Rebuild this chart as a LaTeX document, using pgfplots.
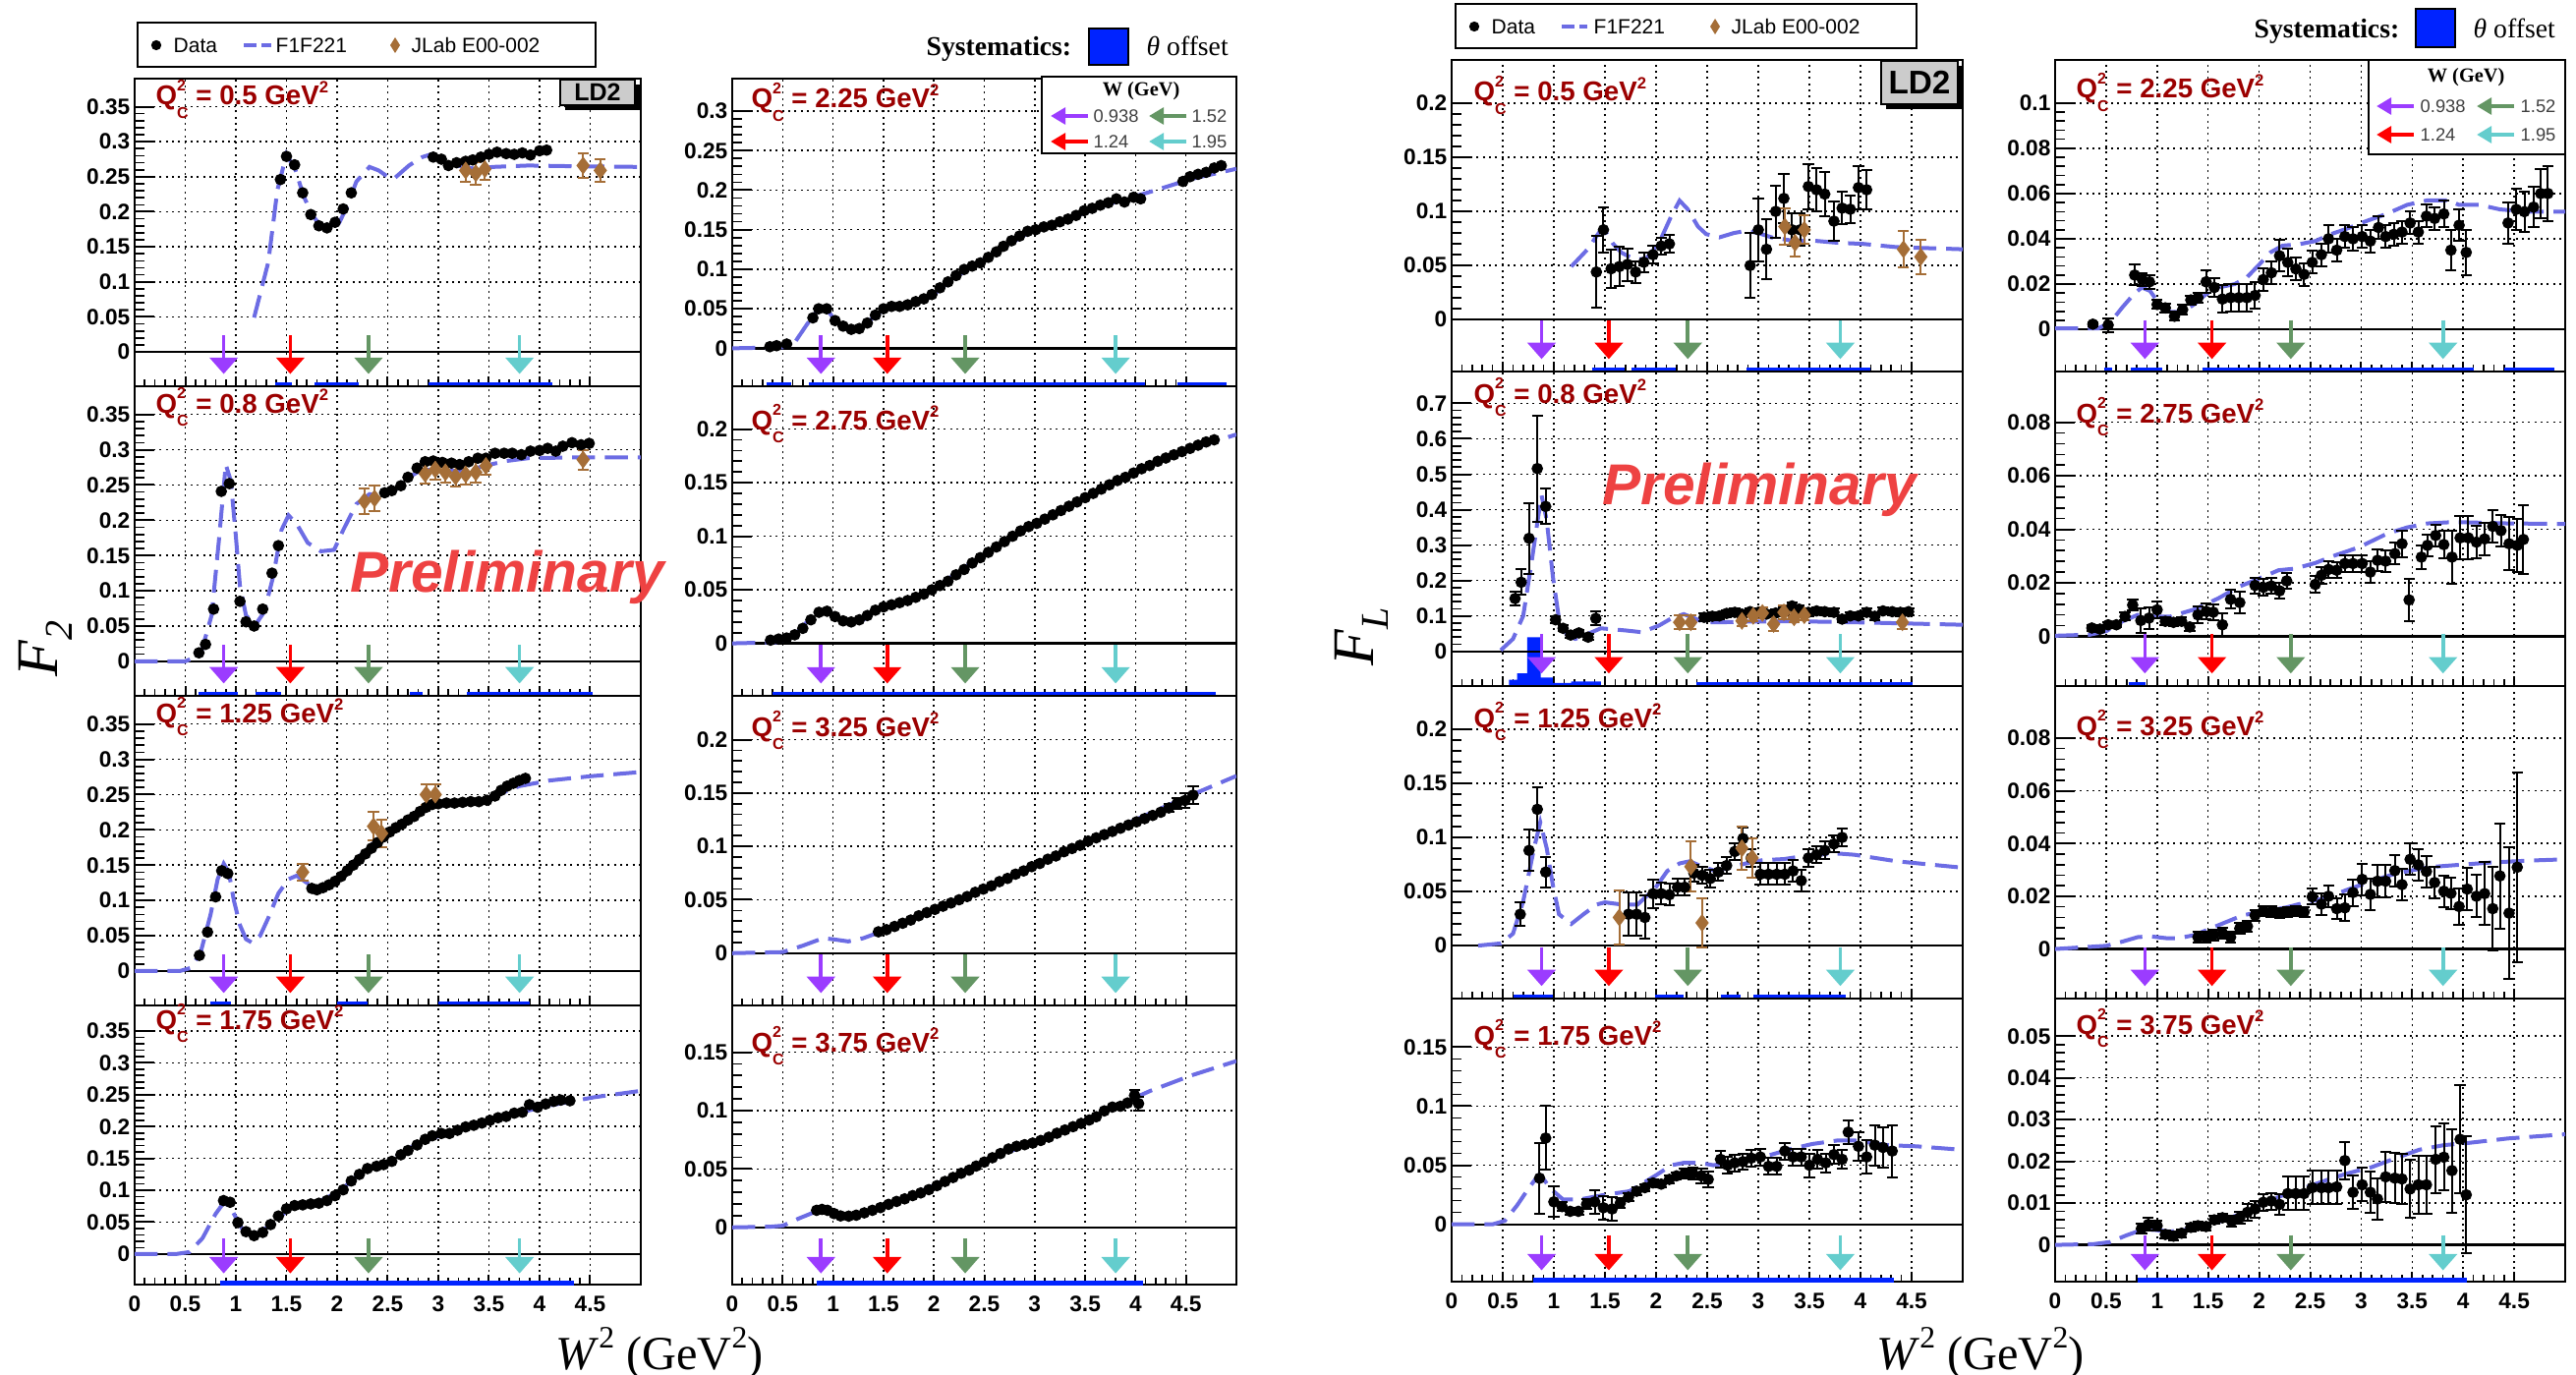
\documentclass[border=0pt]{standalone}
\usepackage{fontspec}
\setmainfont{Liberation Serif}
\newfontfamily\arial{Liberation Sans}
\usepackage{pgfplots}
\pgfplotsset{compat=1.18}
\usetikzlibrary{arrows.meta}

\definecolor{modelc}{RGB}{108,108,228}
\definecolor{jlab}{RGB}{165,110,55}
\definecolor{qred}{RGB}{155,0,0}
\definecolor{prelim}{RGB}{238,66,66}
\definecolor{apurple}{RGB}{155,60,255}
\definecolor{ared}{RGB}{255,0,0}
\definecolor{agreen}{RGB}{100,150,100}
\definecolor{acyan}{RGB}{100,205,205}
\definecolor{sysblue}{RGB}{0,35,255}
\definecolor{ldgray}{RGB}{204,204,204}

\newcommand\tickf{\arial\bfseries\fontsize{6.8}{7}\selectfont}
\newcommand\setrange[2]{\def\ymn{#1}\def\ymx{#2}%
 \pgfmathsetmacro\ya{#1+0.165*((#2)-(#1))}%
 \pgfmathsetmacro\yb{#1+0.04*((#2)-(#1))}}
\newcommand\arrowsplot{%
 \addplot[apurple, line width=1.1pt, -{Triangle[width=8.5pt,length=5pt]}, forget plot] coordinates {(0.8798,\ya) (0.8798,\yb)};
 \addplot[ared, line width=1.1pt, -{Triangle[width=8.5pt,length=5pt]}, forget plot] coordinates {(1.5376,\ya) (1.5376,\yb)};
 \addplot[agreen, line width=1.1pt, -{Triangle[width=8.5pt,length=5pt]}, forget plot] coordinates {(2.3104,\ya) (2.3104,\yb)};
 \addplot[acyan, line width=1.1pt, -{Triangle[width=8.5pt,length=5pt]}, forget plot] coordinates {(3.8025,\ya) (3.8025,\yb)};
}
\newcommand\zeroline{\addplot[black, line width=0.7pt, forget plot] coordinates {(0,0) (5,0)};}
\newcommand\sys[2]{\addplot[sysblue, line width=2.6pt, forget plot] coordinates {(#1,\ymn) (#2,\ymn)};}

\pgfplotsset{
 panel/.style={
  scale only axis, anchor=north west,
  xmin=0, xmax=5, ymin=\ymn, ymax=\ymx,
  xtick={0,0.5,1,1.5,2,2.5,3,3.5,4,4.5},
  xticklabels={},
  scaled y ticks=false, scaled x ticks=false,
  minor x tick num=4, minor y tick num=4,
  tick align=inside, tick pos=left,
  grid=major,
  major grid style={line width=0.45pt, black, dash pattern=on 0.6pt off 1.3pt},
  axis line style={line width=0.8pt, black},
  major tick style={line width=0.6pt, black},
  minor tick style={line width=0.5pt, black},
  major tick length=6pt, minor tick length=3pt,
  xtick style={/pgfplots/major tick length=3pt, /pgfplots/minor tick length=2pt},
  ticklabel style={font=\tickf},
  /pgf/number format/assume math mode=true,
  y tick label style={/pgf/number format/fixed, /pgf/number format/precision=3, inner xsep=1.2pt},
 },
 bottom/.style={xticklabels={0,0.5,1,1.5,2,2.5,3,3.5,4,4.5}},
 dat/.style={only marks, mark=*, mark size=1.55pt, black, mark options={fill=black, draw=black}},
 jl/.style={only marks, mark=diamond*, mark size=2.4pt, color=jlab, mark options={fill=jlab, draw=jlab}},
 mod/.style={no marks, draw=modelc, line width=1.2pt, dash pattern=on 7pt off 3pt},
 err/.style={/pgfplots/error bars/y dir=both, /pgfplots/error bars/y explicit,
   /pgfplots/error bars/error bar style={line width=0.6pt},
   /pgfplots/error bars/error mark options={rotate=90, mark size=1.7pt, line width=0.6pt}},
}

\newcommand\qlab[1]{{\color{qred}\arial\bfseries\fontsize{8.3}{9}\selectfont Q\rlap{\raisebox{0.52em}{\fontsize{4.8}{5}\selectfont 2}}\raisebox{-0.5em}{\fontsize{4.8}{5}\selectfont C} = #1 GeV\raisebox{0.45em}{\fontsize{5}{5}\selectfont 2}}}

\begin{document}
\begin{tikzpicture}
\path[use as bounding box] (0,0) rectangle (786.3pt,-419.7pt);

%%%%%%%%%%%%%%%% F2 left column
\setrange{-0.049}{0.39}
\begin{axis}[panel, at={(41.1pt,-24pt)}, width=154.5pt, height=93.9pt,
 ytick={0,0.05,0.1,0.15,0.2,0.25,0.3,0.35}]
\zeroline
\addplot[mod] coordinates {(1.18,0.049) (1.32,0.128) (1.41,0.231) (1.50,0.282) (1.59,0.259) (1.67,0.222) (1.76,0.194) (1.84,0.18) (1.93,0.177) (2.02,0.184) (2.10,0.208) (2.19,0.243) (2.32,0.264) (2.41,0.259) (2.50,0.25) (2.56,0.247) (2.71,0.266) (2.84,0.278) (2.93,0.282) (3.02,0.273) (3.19,0.266) (3.37,0.261) (3.54,0.264) (3.89,0.266) (4.32,0.265) (5.0,0.264)};
\addplot[dat] coordinates {(1.44,0.246) (1.50,0.279) (1.58,0.267) (1.66,0.227) (1.74,0.196) (1.82,0.180) (1.90,0.177) (1.98,0.185) (2.06,0.204) (2.14,0.227)
 (2.95,0.278) (3.03,0.275) (3.10,0.266) (3.18,0.270) (3.27,0.272) (3.34,0.274) (3.42,0.278) (3.50,0.282) (3.58,0.285) (3.67,0.283) (3.75,0.282) (3.83,0.284) (3.91,0.281) (4.00,0.287) (4.07,0.288)};
\addplot[jl, err] coordinates {(3.27,0.259) +- (0,0.016) (3.37,0.255) +- (0,0.016) (3.46,0.261) +- (0,0.016) (4.43,0.266) +- (0,0.018) (4.60,0.259) +- (0,0.016)};
\arrowsplot
\sys{1.39}{1.55}\sys{1.78}{2.21}\sys{2.90}{4.13}
\end{axis}

\setrange{-0.049}{0.39}
\begin{axis}[panel, at={(41.1pt,-117.9pt)}, width=154.5pt, height=94.5pt,
 ytick={0,0.05,0.1,0.15,0.2,0.25,0.3,0.35}]
\zeroline
\addplot[mod] coordinates {(0,0) (0.50,0) (0.65,0.009) (0.76,0.065) (0.83,0.168) (0.90,0.279) (0.95,0.256) (1.0,0.177) (1.04,0.107) (1.10,0.065) (1.19,0.051) (1.28,0.070) (1.37,0.121) (1.45,0.186) (1.52,0.207) (1.60,0.195) (1.71,0.168) (1.84,0.156) (1.97,0.158) (2.06,0.186) (2.19,0.223) (2.32,0.237) (2.45,0.235) (2.58,0.244) (2.71,0.261) (2.84,0.272) (2.97,0.271) (3.10,0.27) (3.28,0.27) (3.45,0.277) (3.67,0.284) (3.89,0.288) (4.32,0.289) (5.0,0.289)};
\addplot[dat] coordinates {(0.635,0.012) (0.70,0.024) (0.78,0.074) (0.856,0.241) (0.935,0.252) (1.04,0.085) (1.10,0.056) (1.18,0.050) (1.265,0.074) (1.357,0.125) (1.42,0.164)
 (2.47,0.239) (2.54,0.242) (2.63,0.249) (2.70,0.261) (2.79,0.274) (2.87,0.283) (2.95,0.284) (3.04,0.282) (3.13,0.281) (3.21,0.279) (3.30,0.283) (3.39,0.288) (3.47,0.288) (3.56,0.295) (3.65,0.295) (3.73,0.295) (3.82,0.293) (3.91,0.298) (4.00,0.299) (4.08,0.302) (4.16,0.298) (4.23,0.305) (4.32,0.310) (4.41,0.307) (4.49,0.309)};
\addplot[jl, err] coordinates {(2.27,0.227) +- (0,0.018) (2.37,0.231) +- (0,0.018) (2.87,0.266) +- (0,0.014) (2.97,0.272) +- (0,0.014) (3.07,0.268) +- (0,0.014) (3.17,0.262) +- (0,0.014) (3.27,0.265) +- (0,0.014) (3.37,0.268) +- (0,0.014) (3.47,0.277) +- (0,0.012) (4.43,0.286) +- (0,0.014)};
\arrowsplot
\sys{0.63}{1.02}\sys{1.19}{1.45}\sys{2.72}{2.84}\sys{3.28}{4.52}
\end{axis}

\setrange{-0.049}{0.39}
\begin{axis}[panel, at={(41.1pt,-212.4pt)}, width=154.5pt, height=94.5pt,
 ytick={0,0.05,0.1,0.15,0.2,0.25,0.3,0.35}]
\zeroline
\addplot[mod] coordinates {(0,0) (0.45,0) (0.55,0.004) (0.65,0.025) (0.75,0.08) (0.82,0.13) (0.88,0.152) (0.93,0.14) (0.98,0.10) (1.04,0.065) (1.10,0.045) (1.16,0.04) (1.24,0.05) (1.32,0.075) (1.42,0.11) (1.52,0.13) (1.60,0.135) (1.70,0.125) (1.80,0.118) (1.92,0.122) (2.05,0.135) (2.2,0.16) (2.35,0.18) (2.5,0.195) (2.7,0.215) (2.9,0.232) (3.1,0.236) (3.3,0.238) (3.5,0.245) (3.8,0.262) (4.1,0.27) (4.5,0.276) (5,0.282)};
\addplot[dat] coordinates {(0.64,0.022) (0.72,0.055) (0.80,0.105) (0.86,0.142) (0.92,0.138)
 (1.75,0.117) (1.80,0.115) (1.86,0.118) (1.92,0.122) (1.98,0.127) (2.04,0.134) (2.10,0.142) (2.16,0.150) (2.22,0.158) (2.28,0.166) (2.34,0.174) (2.40,0.182) (2.46,0.190) (2.52,0.197) (2.58,0.203) (2.64,0.208) (2.70,0.214) (2.76,0.219) (2.82,0.226) (2.88,0.232) (2.94,0.236) (3.00,0.237) (3.08,0.238) (3.16,0.238) (3.24,0.239) (3.32,0.240) (3.40,0.240) (3.48,0.242) (3.56,0.248) (3.62,0.256) (3.68,0.262) (3.74,0.266) (3.80,0.270) (3.86,0.273)};
\addplot[jl, err] coordinates {(1.66,0.14) +- (0,0.012) (2.36,0.205) +- (0,0.02) (2.44,0.195) +- (0,0.02) (2.88,0.25) +- (0,0.015) (2.97,0.25) +- (0,0.015)};
\arrowsplot
\sys{0.75}{0.95}\sys{2.0}{2.3}\sys{3.0}{3.9}
\end{axis}

\setrange{-0.048}{0.39}
\begin{axis}[panel, bottom, at={(41.1pt,-306.9pt)}, width=154.5pt, height=85.2pt,
 ytick={0,0.05,0.1,0.15,0.2,0.25,0.3,0.35}]
\zeroline
\addplot[mod] coordinates {(0,0) (0.41,0) (0.54,0.003) (0.67,0.0247) (0.80,0.063) (0.887,0.082) (0.97,0.066) (1.06,0.040) (1.19,0.030) (1.37,0.048) (1.54,0.0735) (1.80,0.081) (2.02,0.098) (2.23,0.127) (2.50,0.145) (2.80,0.174) (3.23,0.197) (3.67,0.217) (4.10,0.233) (4.54,0.246) (5.0,0.256)};
\addplot[dat] coordinates {(0.878,0.0838) (0.943,0.0812) (1.02,0.0493) (1.10,0.035) (1.18,0.0288) (1.265,0.0339) (1.343,0.0462) (1.42,0.0596) (1.50,0.0709) (1.58,0.076) (1.66,0.0771) (1.74,0.0786) (1.82,0.0797) (1.90,0.0838) (1.98,0.0915) (2.06,0.1007) (2.14,0.1146) (2.22,0.1249) (2.30,0.1341) (2.39,0.1377) (2.46,0.1403) (2.54,0.1454) (2.63,0.1557) (2.70,0.1624) (2.79,0.1711) (2.87,0.1799) (2.94,0.1855) (3.03,0.1891) (3.11,0.1891) (3.19,0.1942) (3.27,0.1994) (3.35,0.202) (3.43,0.2055) (3.51,0.2097) (3.59,0.2138) (3.67,0.2158) (3.75,0.221) (3.83,0.2225) (3.90,0.2343) (3.98,0.2302) (4.06,0.2354) (4.14,0.2395) (4.21,0.2415) (4.30,0.2405)};
\arrowsplot
\sys{0.84}{4.34}
\end{axis}

%%%%%%%%%%%%%%%% F2 right column
\setrange{-0.048}{0.341}
\begin{axis}[panel, at={(223.5pt,-24pt)}, width=153.9pt, height=93.9pt,
 ytick={0,0.05,0.1,0.15,0.2,0.25,0.3}]
\zeroline
\addplot[mod] coordinates {(0,0) (0.5,0.0012) (0.62,0.0074) (0.74,0.030) (0.84,0.047) (0.94,0.049) (1.04,0.032) (1.15,0.023) (1.29,0.026) (1.43,0.043) (1.53,0.050) (1.77,0.057) (1.97,0.065) (2.17,0.086) (2.37,0.103) (2.56,0.117) (2.96,0.148) (3.36,0.165) (3.75,0.183) (4.15,0.198) (4.55,0.214) (5.0,0.227)};
\addplot[dat] coordinates {(0.373,0.002) (0.44,0.0033) (0.54,0.0054) (0.80,0.0385) (0.857,0.050) (0.937,0.050) (1.02,0.035) (1.10,0.028) (1.18,0.024) (1.26,0.025) (1.34,0.032) (1.42,0.042) (1.50,0.050) (1.58,0.053) (1.66,0.053) (1.74,0.055) (1.82,0.059) (1.90,0.0625) (1.98,0.068) (2.06,0.0765) (2.14,0.084) (2.22,0.092) (2.30,0.0997) (2.38,0.104) (2.46,0.108) (2.54,0.115) (2.62,0.122) (2.69,0.129) (2.77,0.136) (2.85,0.142) (2.93,0.148) (3.01,0.150) (3.09,0.1535) (3.17,0.1556) (3.25,0.160) (3.33,0.1634) (3.41,0.168) (3.49,0.174) (3.57,0.177) (3.65,0.181) (3.73,0.184) (3.81,0.189) (3.89,0.185) (3.98,0.191) (4.05,0.189)
 (4.47,0.211) (4.54,0.217) (4.62,0.220) (4.70,0.2225) (4.78,0.228) (4.85,0.231)};
\arrowsplot
\sys{0.34}{0.58}\sys{0.76}{4.09}\sys{4.42}{4.90}
\end{axis}

\setrange{-0.049}{0.24}
\begin{axis}[panel, at={(223.5pt,-117.9pt)}, width=153.9pt, height=94.5pt,
 ytick={0,0.05,0.1,0.15,0.2}]
\zeroline
\addplot[mod] coordinates {(0,0) (0.45,0.001) (0.6,0.006) (0.72,0.018) (0.84,0.029) (0.94,0.031) (1.04,0.024) (1.15,0.019) (1.3,0.022) (1.45,0.032) (1.6,0.037) (1.8,0.042) (2.0,0.051) (2.2,0.064) (2.4,0.077) (2.6,0.089) (2.8,0.101) (3.0,0.112) (3.4,0.13) (3.8,0.151) (4.2,0.168) (4.6,0.183) (5.0,0.195)};
\addplot[dat] coordinates {(0.38,0.003) (0.46,0.004) (0.54,0.005) (0.62,0.008) (0.70,0.014) (0.78,0.022) (0.86,0.029) (0.94,0.030) (1.02,0.025) (1.10,0.021) (1.18,0.020) (1.26,0.022) (1.34,0.026) (1.42,0.031) (1.50,0.034) (1.58,0.036) (1.66,0.038) (1.74,0.040) (1.82,0.043) (1.90,0.046) (1.98,0.050) (2.06,0.054) (2.14,0.058) (2.22,0.064) (2.30,0.069) (2.38,0.075) (2.46,0.080) (2.54,0.085) (2.62,0.090) (2.70,0.095) (2.78,0.100) (2.86,0.105) (2.94,0.109) (3.02,0.112) (3.10,0.116) (3.18,0.120) (3.26,0.124) (3.34,0.128) (3.42,0.132) (3.50,0.136) (3.58,0.140) (3.66,0.144) (3.74,0.148) (3.82,0.152) (3.90,0.155) (3.98,0.159) (4.06,0.163) (4.14,0.166) (4.22,0.170) (4.30,0.173) (4.38,0.176) (4.46,0.179) (4.54,0.182) (4.62,0.185) (4.70,0.188) (4.78,0.190)};
\arrowsplot
\sys{0.4}{4.8}
\end{axis}

\setrange{-0.049}{0.241}
\begin{axis}[panel, at={(223.5pt,-212.4pt)}, width=153.9pt, height=94.5pt,
 ytick={0,0.05,0.1,0.15,0.2}]
\zeroline
\addplot[mod] coordinates {(0,0) (0.5,0.001) (0.7,0.007) (0.9,0.014) (1.0,0.013) (1.15,0.011) (1.3,0.014) (1.5,0.021) (2.0,0.040) (2.5,0.060) (3.0,0.083) (3.5,0.104) (4.0,0.125) (4.5,0.146) (5.0,0.166)};
\addplot[dat] coordinates {(1.45,0.020) (1.53,0.022) (1.61,0.025) (1.69,0.028) (1.77,0.031) (1.85,0.035) (1.93,0.038) (2.01,0.041) (2.09,0.044) (2.17,0.047) (2.25,0.050) (2.33,0.053) (2.41,0.057) (2.49,0.060) (2.57,0.063) (2.65,0.067) (2.73,0.070) (2.81,0.074) (2.89,0.077) (2.97,0.081) (3.05,0.084) (3.13,0.088) (3.21,0.091) (3.29,0.095) (3.37,0.098) (3.45,0.101) (3.53,0.105) (3.61,0.108) (3.69,0.111) (3.77,0.114) (3.85,0.117) (3.93,0.120) (4.01,0.123) (4.09,0.126) (4.17,0.129) (4.25,0.132)};
\addplot[dat, err] coordinates {(4.33,0.136) +- (0,0.004) (4.41,0.140) +- (0,0.005) (4.49,0.143) +- (0,0.007) (4.57,0.148) +- (0,0.008)};
\arrowsplot
\end{axis}

\setrange{-0.049}{0.19}
\begin{axis}[panel, bottom, at={(223.5pt,-306.9pt)}, width=153.9pt, height=85.2pt,
 ytick={0,0.05,0.1,0.15}]
\zeroline
\addplot[mod] coordinates {(0,0) (0.38,0.0006) (0.5,0.0014) (0.66,0.0076) (0.82,0.0132) (0.98,0.0132) (1.13,0.0098) (1.37,0.0132) (1.77,0.0267) (2.17,0.0427) (2.56,0.0581) (2.96,0.0722) (3.36,0.0862) (3.75,0.1017) (4.15,0.117) (4.55,0.13) (5.0,0.1424)};
\addplot[dat] coordinates {(0.837,0.0146) (0.89,0.0154) (0.944,0.0146) (1.01,0.0118) (1.075,0.0098) (1.155,0.0096) (1.23,0.0104) (1.31,0.0124) (1.39,0.0146) (1.47,0.0169) (1.55,0.0197) (1.63,0.0222) (1.71,0.0244) (1.79,0.0272) (1.87,0.0295) (1.95,0.0323) (2.03,0.0357) (2.11,0.0393) (2.19,0.0427) (2.27,0.0463) (2.35,0.049) (2.42,0.0525) (2.50,0.0559) (2.58,0.0596) (2.66,0.0632) (2.74,0.0671) (2.82,0.0694) (2.90,0.0708) (2.98,0.0722) (3.06,0.0744) (3.14,0.0772) (3.22,0.0806) (3.30,0.0834) (3.38,0.0862) (3.46,0.089) (3.54,0.0919) (3.61,0.0947) (3.69,0.0997) (3.77,0.103) (3.85,0.1037) (3.92,0.1065)};
\addplot[dat, err] coordinates {(3.99,0.113) +- (0,0.005) (4.03,0.106) +- (0,0.006)};
\arrowsplot
\sys{0.84}{4.07}
\end{axis}

%%%%%%%%%%%%%%%% FL left column
\setrange{-0.048}{0.24}
\begin{axis}[panel, at={(443.1pt,-18.3pt)}, width=156pt, height=95.1pt,
 ytick={0,0.05,0.1,0.15,0.2}]
\zeroline
\addplot[mod] coordinates {(1.17,0.049) (1.33,0.065) (1.46,0.083) (1.50,0.082) (1.58,0.07) (1.66,0.062) (1.78,0.056) (1.90,0.056) (2.03,0.071) (2.15,0.096) (2.23,0.11) (2.31,0.102) (2.41,0.086) (2.49,0.079) (2.62,0.076) (2.76,0.08) (2.88,0.082) (3.00,0.08) (3.13,0.076) (3.33,0.073) (3.53,0.073) (3.78,0.071) (4.02,0.07) (4.35,0.067) (5.0,0.065)};
\addplot[dat, err] coordinates {(1.416,0.044) +- (0,0.033) (1.485,0.083) +- (0,0.021) (1.56,0.047) +- (0,0.018) (1.64,0.049) +- (0,0.018) (1.72,0.051) +- (0,0.015) (1.80,0.044) +- (0,0.01) (1.88,0.053) +- (0,0.009) (1.97,0.060) +- (0,0.008) (2.05,0.068) +- (0,0.008) (2.13,0.070) +- (0,0.008)
 (2.92,0.050) +- (0,0.03) (3.00,0.083) +- (0,0.029) (3.08,0.065) +- (0,0.028) (3.17,0.100) +- (0,0.024) (3.25,0.112) +- (0,0.023) (3.33,0.083) +- (0,0.015) (3.41,0.083) +- (0,0.015) (3.49,0.123) +- (0,0.021) (3.57,0.120) +- (0,0.02) (3.65,0.116) +- (0,0.02) (3.74,0.091) +- (0,0.018) (3.82,0.103) +- (0,0.015) (3.90,0.102) +- (0,0.013) (3.98,0.122) +- (0,0.02) (4.06,0.120) +- (0,0.018)};
\addplot[jl, err] coordinates {(3.26,0.086) +- (0,0.017) (3.36,0.071) +- (0,0.013) (3.45,0.083) +- (0,0.013) (4.42,0.065) +- (0,0.017) (4.59,0.058) +- (0,0.016)};
\arrowsplot
\sys{1.37}{1.69}\sys{1.76}{2.19}\sys{2.88}{4.10}
\end{axis}

\setrange{-0.098}{0.79}
\begin{axis}[panel, at={(443.1pt,-113.4pt)}, width=156pt, height=96pt,
 ytick={0,0.1,0.2,0.3,0.4,0.5,0.6,0.7}]
\addplot[fill=sysblue, draw=none, forget plot] coordinates {(0.56,-0.1) (0.56,-0.080) (0.64,-0.080) (0.64,-0.062) (0.74,-0.062) (0.74,0.040) (0.87,0.040) (0.87,-0.074) (0.99,-0.074) (0.99,-0.089) (1.17,-0.089) (1.17,-0.085) (1.46,-0.085) (1.46,-0.1)};
\zeroline
\addplot[mod] coordinates {(0.48,0.003) (0.60,0.035) (0.70,0.10) (0.785,0.258) (0.846,0.379) (0.88,0.44) (0.93,0.37) (0.99,0.212) (1.05,0.091) (1.13,0.045) (1.21,0.035) (1.33,0.049) (1.46,0.065) (1.54,0.063) (1.70,0.059) (1.86,0.054) (2.03,0.073) (2.15,0.093) (2.27,0.105) (2.35,0.096) (2.47,0.082) (2.64,0.082) (2.92,0.084) (3.33,0.085) (3.94,0.082) (5.0,0.075)};
\addplot[dat, err] coordinates {(0.62,0.149) +- (0,0.02) (0.68,0.195) +- (0,0.036) (0.757,0.319) +- (0,0.1) (0.838,0.516) +- (0,0.15) (0.92,0.409) +- (0,0.05) (1.017,0.089) +- (0,0.01) (1.09,0.065) +- (0,0.008) (1.164,0.046) +- (0,0.008) (1.245,0.052) +- (0,0.008) (1.335,0.040) +- (0,0.008) (1.41,0.093) +- (0,0.02)
 (2.47,0.096) +- (0,0.01) (2.55,0.099) +- (0,0.01) (2.62,0.10) +- (0,0.01) (2.69,0.107) +- (0,0.01) (2.77,0.110) +- (0,0.01) (2.84,0.105) +- (0,0.01) (2.92,0.112) +- (0,0.01) (3.00,0.110) +- (0,0.01) (3.08,0.105) +- (0,0.01) (3.17,0.108) +- (0,0.01) (3.25,0.114) +- (0,0.01) (3.33,0.128) +- (0,0.01) (3.40,0.119) +- (0,0.01) (3.49,0.110) +- (0,0.01) (3.57,0.114) +- (0,0.01) (3.65,0.112) +- (0,0.01) (3.74,0.110) +- (0,0.01) (3.82,0.091) +- (0,0.01) (3.90,0.10) +- (0,0.01) (3.98,0.10) +- (0,0.01) (4.06,0.110) +- (0,0.01) (4.14,0.099) +- (0,0.01) (4.22,0.114) +- (0,0.01) (4.31,0.112) +- (0,0.01) (4.39,0.110) +- (0,0.01) (4.47,0.112) +- (0,0.01)};
\addplot[jl, err] coordinates {(2.23,0.082) +- (0,0.02) (2.34,0.082) +- (0,0.02) (2.84,0.086) +- (0,0.015) (2.95,0.10) +- (0,0.015) (3.04,0.108) +- (0,0.015) (3.15,0.077) +- (0,0.02) (3.25,0.11) +- (0,0.02) (3.35,0.096) +- (0,0.015) (3.45,0.102) +- (0,0.015) (4.41,0.082) +- (0,0.02)};
\arrowsplot
\sys{2.39}{4.51}
\end{axis}

\setrange{-0.049}{0.24}
\begin{axis}[panel, at={(443.1pt,-209.4pt)}, width=156pt, height=95.4pt,
 ytick={0,0.05,0.1,0.15,0.2}]
\zeroline
\addplot[mod] coordinates {(0.26,0) (0.48,0.002) (0.60,0.011) (0.70,0.041) (0.806,0.09) (0.867,0.114) (0.93,0.09) (0.99,0.056) (1.05,0.029) (1.17,0.020) (1.29,0.029) (1.42,0.038) (1.50,0.040) (1.66,0.038) (1.82,0.038) (1.99,0.053) (2.11,0.069) (2.23,0.076) (2.33,0.078) (2.45,0.073) (2.58,0.069) (2.72,0.072) (2.88,0.076) (3.04,0.079) (3.25,0.08) (3.53,0.084) (3.80,0.085) (3.94,0.084) (4.35,0.078) (5.0,0.072)};
\addplot[dat, err] coordinates {(0.671,0.029) +- (0,0.011) (0.757,0.088) +- (0,0.019) (0.838,0.126) +- (0,0.02) (0.92,0.068) +- (0,0.014)
 (1.73,0.029) +- (0,0.02) (1.81,0.029) +- (0,0.02) (1.89,0.026) +- (0,0.02) (1.97,0.048) +- (0,0.013) (2.05,0.048) +- (0,0.01) (2.13,0.047) +- (0,0.01) (2.21,0.054) +- (0,0.008) (2.28,0.054) +- (0,0.008) (2.37,0.067) +- (0,0.008) (2.45,0.065) +- (0,0.008) (2.53,0.062) +- (0,0.008) (2.61,0.068) +- (0,0.008) (2.69,0.074) +- (0,0.008) (2.77,0.087) +- (0,0.008) (2.85,0.099) +- (0,0.01) (2.93,0.081) +- (0,0.008) (3.02,0.066) +- (0,0.01) (3.10,0.066) +- (0,0.01) (3.18,0.066) +- (0,0.01) (3.26,0.066) +- (0,0.01) (3.34,0.069) +- (0,0.01) (3.42,0.060) +- (0,0.01) (3.49,0.081) +- (0,0.008) (3.57,0.084) +- (0,0.008) (3.65,0.088) +- (0,0.008) (3.74,0.094) +- (0,0.008) (3.82,0.100) +- (0,0.008)};
\addplot[jl, err] coordinates {(1.64,0.026) +- (0,0.025) (2.34,0.073) +- (0,0.023) (2.45,0.021) +- (0,0.023) (2.84,0.090) +- (0,0.02) (2.94,0.081) +- (0,0.018)};
\arrowsplot
\sys{0.61}{0.99}\sys{1.99}{2.27}\sys{2.63}{2.83}\sys{2.95}{3.86}
\end{axis}

\setrange{-0.0485}{0.191}
\begin{axis}[panel, bottom, at={(443.1pt,-304.8pt)}, width=156pt, height=86.4pt,
 ytick={0,0.05,0.1,0.15}]
\zeroline
\addplot[mod] coordinates {(0,0) (0.4,0) (0.52,0.003) (0.64,0.016) (0.765,0.032) (0.846,0.041) (0.91,0.037) (0.97,0.03) (1.09,0.021) (1.25,0.021) (1.50,0.025) (1.74,0.028) (1.99,0.041) (2.15,0.05) (2.27,0.052) (2.43,0.052) (2.56,0.050) (2.72,0.052) (2.92,0.055) (3.13,0.059) (3.33,0.064) (3.53,0.068) (3.78,0.071) (3.94,0.071) (4.26,0.067) (4.55,0.066) (5.0,0.063)};
\addplot[dat, err] coordinates {(0.86,0.039) +- (0,0.03) (0.92,0.073) +- (0,0.027) (1.00,0.019) +- (0,0.013) (1.08,0.015) +- (0,0.004) (1.16,0.011) +- (0,0.003) (1.24,0.011) +- (0,0.003) (1.32,0.017) +- (0,0.004) (1.40,0.019) +- (0,0.01) (1.485,0.014) +- (0,0.01) (1.57,0.013) +- (0,0.01) (1.65,0.018) +- (0,0.004) (1.73,0.023) +- (0,0.003) (1.81,0.028) +- (0,0.003) (1.89,0.031) +- (0,0.003) (1.97,0.035) +- (0,0.003) (2.05,0.034) +- (0,0.003) (2.13,0.038) +- (0,0.003) (2.20,0.041) +- (0,0.003) (2.28,0.043) +- (0,0.004) (2.36,0.043) +- (0,0.005) (2.44,0.041) +- (0,0.006) (2.51,0.038) +- (0,0.007)
 (2.63,0.055) +- (0,0.007) (2.70,0.050) +- (0,0.007) (2.77,0.052) +- (0,0.007) (2.85,0.053) +- (0,0.007) (2.93,0.056) +- (0,0.007) (3.02,0.057) +- (0,0.007) (3.10,0.049) +- (0,0.007) (3.18,0.049) +- (0,0.007) (3.26,0.062) +- (0,0.007) (3.34,0.057) +- (0,0.007) (3.42,0.057) +- (0,0.007) (3.50,0.050) +- (0,0.01) (3.58,0.055) +- (0,0.008) (3.66,0.052) +- (0,0.008) (3.74,0.059) +- (0,0.008) (3.82,0.055) +- (0,0.008) (3.88,0.078) +- (0,0.01) (3.98,0.066) +- (0,0.012) (4.06,0.057) +- (0,0.014) (4.14,0.067) +- (0,0.017) (4.22,0.065) +- (0,0.017) (4.31,0.062) +- (0,0.022)};
\arrowsplot
\sys{0.8}{4.33}
\end{axis}

%%%%%%%%%%%%%%%% FL right column
\setrange{-0.0186}{0.119}
\begin{axis}[panel, at={(627.3pt,-18.3pt)}, width=155.7pt, height=95.1pt,
 ytick={0,0.02,0.04,0.06,0.08,0.1}]
\zeroline
\addplot[mod] coordinates {(0,0.0004) (0.42,0.0004) (0.54,0.003) (0.66,0.0098) (0.78,0.016) (0.85,0.0185) (0.93,0.017) (1.01,0.012) (1.13,0.0077) (1.25,0.0077) (1.37,0.0113) (1.48,0.0156) (1.60,0.0185) (1.76,0.020) (1.88,0.023) (2.0,0.0286) (2.11,0.034) (2.23,0.037) (2.39,0.0376) (2.55,0.039) (2.70,0.042) (2.86,0.0445) (3.06,0.048) (3.25,0.051) (3.45,0.055) (3.65,0.057) (3.85,0.057) (3.96,0.055) (4.16,0.055) (4.36,0.053) (4.63,0.052) (5.0,0.052)};
\addplot[dat, err] coordinates {(0.37,0.0023) +- (0,0.001) (0.52,0.0019) +- (0,0.003) (0.78,0.024) +- (0,0.0045) (0.855,0.022) +- (0,0.003) (0.925,0.021) +- (0,0.003) (1.00,0.011) +- (0,0.002) (1.08,0.0095) +- (0,0.002) (1.17,0.0058) +- (0,0.002) (1.25,0.0087) +- (0,0.002) (1.33,0.013) +- (0,0.002) (1.40,0.014) +- (0,0.002) (1.48,0.021) +- (0,0.005) (1.56,0.0185) +- (0,0.004) (1.64,0.0134) +- (0,0.006) (1.72,0.014) +- (0,0.006) (1.80,0.014) +- (0,0.006) (1.88,0.014) +- (0,0.006) (1.96,0.015) +- (0,0.006) (2.04,0.022) +- (0,0.005) (2.12,0.025) +- (0,0.005) (2.20,0.0325) +- (0,0.007) (2.28,0.0296) +- (0,0.006) (2.36,0.0267) +- (0,0.005) (2.44,0.0243) +- (0,0.005) (2.52,0.0296) +- (0,0.005) (2.61,0.033) +- (0,0.005) (2.68,0.040) +- (0,0.006) (2.76,0.035) +- (0,0.005) (2.84,0.041) +- (0,0.005) (2.92,0.040) +- (0,0.005) (3.01,0.041) +- (0,0.005) (3.09,0.039) +- (0,0.005) (3.17,0.045) +- (0,0.005) (3.24,0.041) +- (0,0.005) (3.32,0.042) +- (0,0.005) (3.40,0.043) +- (0,0.005) (3.48,0.047) +- (0,0.005) (3.56,0.043) +- (0,0.005) (3.64,0.050) +- (0,0.005) (3.72,0.049) +- (0,0.005) (3.81,0.051) +- (0,0.006) (3.88,0.035) +- (0,0.009) (3.96,0.046) +- (0,0.007) (4.03,0.034) +- (0,0.01)
 (4.44,0.047) +- (0,0.009) (4.52,0.053) +- (0,0.009) (4.60,0.052) +- (0,0.009) (4.69,0.054) +- (0,0.009) (4.76,0.060) +- (0,0.011) (4.83,0.060) +- (0,0.012)};
\arrowsplot
\sys{0.48}{0.56}\sys{0.74}{1.05}\sys{1.44}{4.10}\sys{4.40}{4.89}
\end{axis}

\setrange{-0.0186}{0.099}
\begin{axis}[panel, at={(627.3pt,-113.4pt)}, width=155.7pt, height=96pt,
 ytick={0,0.02,0.04,0.06,0.08}]
\zeroline
\addplot[mod] coordinates {(0,0.0002) (0.34,0.0006) (0.5,0.0019) (0.66,0.0056) (0.81,0.008) (0.97,0.0074) (1.13,0.0074) (1.37,0.0101) (1.60,0.0142) (1.80,0.0185) (2.0,0.0216) (2.19,0.0247) (2.35,0.0253) (2.55,0.0274) (2.74,0.0302) (2.98,0.0333) (3.25,0.0383) (3.45,0.0407) (3.65,0.0422) (3.85,0.0426) (4.04,0.0426) (4.44,0.0422) (5.0,0.042)};
\addplot[dat, err] coordinates {(0.36,0.0031) +- (0,0.001) (0.44,0.0027) +- (0,0.001) (0.52,0.0043) +- (0,0.001) (0.60,0.0043) +- (0,0.001) (0.685,0.0074) +- (0,0.0015) (0.76,0.0117) +- (0,0.002) (0.84,0.0059) +- (0,0.0045) (0.92,0.0068) +- (0,0.004) (1.00,0.0099) +- (0,0.003) (1.08,0.0056) +- (0,0.0015) (1.16,0.0052) +- (0,0.0015) (1.24,0.0056) +- (0,0.0015) (1.32,0.0035) +- (0,0.0015) (1.40,0.008) +- (0,0.003) (1.48,0.0093) +- (0,0.003) (1.55,0.009) +- (0,0.003) (1.64,0.0043) +- (0,0.0043) (1.72,0.0138) +- (0,0.0035) (1.81,0.0126) +- (0,0.004) (1.96,0.019) +- (0,0.003) (2.04,0.0183) +- (0,0.003) (2.12,0.0188) +- (0,0.003) (2.20,0.017) +- (0,0.003) (2.27,0.0207) +- (0,0.003) (2.55,0.0194) +- (0,0.003) (2.61,0.0228) +- (0,0.003) (2.68,0.025) +- (0,0.003) (2.76,0.0247) +- (0,0.003) (2.84,0.0272) +- (0,0.003) (2.92,0.0272) +- (0,0.003) (3.01,0.0272) +- (0,0.003) (3.09,0.024) +- (0,0.004) (3.16,0.0284) +- (0,0.004) (3.24,0.0281) +- (0,0.004) (3.33,0.0309) +- (0,0.004) (3.40,0.0346) +- (0,0.005) (3.47,0.0136) +- (0,0.008) (3.59,0.0296) +- (0,0.0045) (3.65,0.034) +- (0,0.004) (3.73,0.0377) +- (0,0.004) (3.81,0.0343) +- (0,0.005) (3.89,0.0296) +- (0,0.01) (3.97,0.0368) +- (0,0.008) (4.05,0.0368) +- (0,0.008) (4.13,0.0352) +- (0,0.006) (4.21,0.0364) +- (0,0.006) (4.29,0.0411) +- (0,0.006) (4.37,0.0395) +- (0,0.006) (4.45,0.0346) +- (0,0.01) (4.53,0.034) +- (0,0.01) (4.59,0.0362) +- (0,0.013)};
\arrowsplot
\sys{0.72}{0.89}
\end{axis}

\setrange{-0.0188}{0.0997}
\begin{axis}[panel, at={(627.3pt,-209.4pt)}, width=155.7pt, height=95.4pt,
 ytick={0,0.02,0.04,0.06,0.08}]
\zeroline
\addplot[mod] coordinates {(0,0) (0.5,0.0012) (0.66,0.0028) (0.81,0.0045) (0.93,0.0048) (1.09,0.0041) (1.21,0.0041) (1.37,0.0053) (1.60,0.009) (1.84,0.0128) (2.07,0.0144) (2.27,0.0158) (2.47,0.0178) (2.66,0.0194) (2.86,0.0224) (3.10,0.0257) (3.33,0.0285) (3.65,0.031) (3.96,0.0319) (4.24,0.0327) (4.63,0.0335) (5.0,0.034)};
\addplot[dat, err] coordinates {(1.40,0.0045) +- (0,0.002) (1.48,0.0045) +- (0,0.002) (1.55,0.0053) +- (0,0.002) (1.64,0.006) +- (0,0.002) (1.72,0.0045) +- (0,0.002) (1.81,0.0078) +- (0,0.002) (1.885,0.0086) +- (0,0.002) (1.96,0.0128) +- (0,0.002) (2.04,0.0144) +- (0,0.002) (2.12,0.0141) +- (0,0.002) (2.20,0.0136) +- (0,0.002) (2.28,0.014) +- (0,0.002) (2.36,0.0144) +- (0,0.002) (2.44,0.014) +- (0,0.002) (2.52,0.0198) +- (0,0.003) (2.61,0.017) +- (0,0.004) (2.68,0.020) +- (0,0.004) (2.76,0.0153) +- (0,0.004) (2.84,0.0156) +- (0,0.005) (2.92,0.0214) +- (0,0.005) (3.01,0.0264) +- (0,0.006) (3.09,0.0207) +- (0,0.006) (3.16,0.0257) +- (0,0.006) (3.24,0.0257) +- (0,0.006) (3.33,0.0297) +- (0,0.006) (3.40,0.0244) +- (0,0.006) (3.48,0.034) +- (0,0.006) (3.56,0.0319) +- (0,0.006) (3.64,0.0294) +- (0,0.006) (3.72,0.0252) +- (0,0.006) (3.81,0.0219) +- (0,0.006) (3.88,0.0211) +- (0,0.006) (3.96,0.0161) +- (0,0.007) (4.04,0.0227) +- (0,0.008) (4.13,0.020) +- (0,0.008) (4.21,0.021) +- (0,0.012) (4.29,0.0153) +- (0,0.016) (4.36,0.0277) +- (0,0.02) (4.45,0.0136) +- (0,0.025) (4.53,0.031) +- (0,0.036)};
\arrowsplot
\end{axis}

\setrange{-0.0088}{0.059}
\begin{axis}[panel, bottom, at={(627.3pt,-304.8pt)}, width=155.7pt, height=86.4pt,
 ytick={0,0.01,0.02,0.03,0.04,0.05}]
\zeroline
\addplot[mod] coordinates {(0,0) (0.38,0.0002) (0.54,0.0007) (0.70,0.0023) (0.85,0.0036) (0.97,0.0036) (1.13,0.0032) (1.37,0.0039) (1.60,0.0055) (1.84,0.0076) (2.07,0.0102) (2.27,0.0123) (2.47,0.0139) (2.66,0.0155) (2.86,0.0171) (3.10,0.0186) (3.33,0.0207) (3.57,0.0228) (3.81,0.0239) (4.04,0.0244) (4.44,0.0255) (5.0,0.0265)};
\addplot[dat, err] coordinates {(0.846,0.0039) +- (0,0.0012) (0.913,0.0049) +- (0,0.0015) (1.00,0.0046) +- (0,0.0012) (1.08,0.0025) +- (0,0.001) (1.16,0.0021) +- (0,0.001) (1.24,0.0028) +- (0,0.001) (1.33,0.0042) +- (0,0.001) (1.40,0.0046) +- (0,0.001) (1.48,0.0044) +- (0,0.001) (1.56,0.006) +- (0,0.001) (1.64,0.0065) +- (0,0.001) (1.73,0.0057) +- (0,0.0012) (1.81,0.0065) +- (0,0.0015) (1.885,0.0078) +- (0,0.002) (1.96,0.0086) +- (0,0.002) (2.04,0.0102) +- (0,0.002) (2.12,0.0105) +- (0,0.002) (2.20,0.0097) +- (0,0.0025) (2.28,0.0123) +- (0,0.004) (2.36,0.0123) +- (0,0.004) (2.44,0.0123) +- (0,0.004) (2.52,0.0137) +- (0,0.004) (2.61,0.0137) +- (0,0.004) (2.68,0.0137) +- (0,0.004) (2.76,0.0139) +- (0,0.004) (2.84,0.0202) +- (0,0.0045) (2.92,0.0126) +- (0,0.004) (3.01,0.0144) +- (0,0.004) (3.09,0.0126) +- (0,0.005) (3.16,0.011) +- (0,0.005) (3.24,0.0163) +- (0,0.006) (3.33,0.016) +- (0,0.006) (3.40,0.0158) +- (0,0.006) (3.48,0.0134) +- (0,0.007) (3.56,0.0144) +- (0,0.007) (3.64,0.0144) +- (0,0.007) (3.73,0.0205) +- (0,0.008) (3.81,0.021) +- (0,0.008) (3.89,0.0178) +- (0,0.01) (3.97,0.0253) +- (0,0.013) (4.03,0.012) +- (0,0.014)};
\arrowsplot
\sys{0.81}{4.04}
\end{axis}

%%%%%%%%%%%%%%%% annotations
\begin{scope}[x=0.3pt,y=-0.3pt]
\draw[line width=0.6pt, fill=white] (140,23) rectangle (606,68);
\fill (159,46) circle (1.55pt);
\node[anchor=west, inner sep=0] at (176,46) {\arial\fontsize{6.3}{7}\selectfont Data};
\draw[modelc, line width=1.1pt, dash pattern=on 4pt off 1.5pt] (248,46) -- (276,46);
\node[anchor=west, inner sep=0] at (280,46) {\arial\fontsize{6.3}{7}\selectfont F1F221};
\fill[jlab] (402,38) -- (407,46) -- (402,54) -- (397,46) -- cycle;
\node[anchor=west, inner sep=0] at (418,46) {\arial\fontsize{6.3}{7}\selectfont JLab E00-002};

\draw[line width=0.6pt, fill=white] (1481,4) rectangle (1950,49);
\fill (1500,27) circle (1.55pt);
\node[anchor=west, inner sep=0] at (1517,27) {\arial\fontsize{6.3}{7}\selectfont Data};
\draw[modelc, line width=1.1pt, dash pattern=on 4pt off 1.5pt] (1589,27) -- (1615,27);
\node[anchor=west, inner sep=0] at (1621,27) {\arial\fontsize{6.3}{7}\selectfont F1F221};
\fill[jlab] (1745,19) -- (1750,27) -- (1745,35) -- (1740,27) -- cycle;
\node[anchor=west, inner sep=0] at (1761,27) {\arial\fontsize{6.3}{7}\selectfont JLab E00-002};

\node[anchor=base west, inner sep=0] at (942,57) {\bfseries\fontsize{8.3}{9}\selectfont Systematics:};
\draw[line width=0.7pt, fill=sysblue] (1108,29) rectangle (1148,66);
\node[anchor=base west, inner sep=0] at (1166,57) {\fontsize{8.3}{9}\selectfont\textit{θ} offset};
\node[anchor=base west, inner sep=0] at (2293,39) {\bfseries\fontsize{8.3}{9}\selectfont Systematics:};
\draw[line width=0.7pt, fill=sysblue] (2458,9) rectangle (2498,48);
\node[anchor=base west, inner sep=0] at (2516,39) {\fontsize{8.3}{9}\selectfont\textit{θ} offset};

\draw[line width=0.6pt, fill=white] (1060,78) rectangle (1258,156);
\node[inner sep=0] at (1161,93) {\bfseries\fontsize{6.1}{7}\selectfont W (GeV)};
\draw[apurple, line width=1.2pt, -{Triangle[width=5pt,length=4.5pt]}] (1107,118) -- (1069,118);
\draw[agreen, line width=1.2pt, -{Triangle[width=5pt,length=4.5pt]}] (1207,118) -- (1169,118);
\draw[ared, line width=1.2pt, -{Triangle[width=5pt,length=4.5pt]}] (1107,144) -- (1069,144);
\draw[acyan, line width=1.2pt, -{Triangle[width=5pt,length=4.5pt]}] (1207,144) -- (1169,144);
\node[anchor=west, inner sep=0, text=black!75] at (1112,118) {\arial\fontsize{5.5}{6}\selectfont 0.938};
\node[anchor=west, inner sep=0, text=black!75] at (1212,118) {\arial\fontsize{5.5}{6}\selectfont 1.52};
\node[anchor=west, inner sep=0, text=black!75] at (1112,144) {\arial\fontsize{5.5}{6}\selectfont 1.24};
\node[anchor=west, inner sep=0, text=black!75] at (1212,144) {\arial\fontsize{5.5}{6}\selectfont 1.95};

\draw[line width=0.6pt, fill=white] (2410,61) rectangle (2610,157);
\node[inner sep=0] at (2509,79) {\bfseries\fontsize{6.1}{7}\selectfont W (GeV)};
\draw[apurple, line width=1.2pt, -{Triangle[width=5pt,length=4.5pt]}] (2456,108) -- (2418,108);
\draw[agreen, line width=1.2pt, -{Triangle[width=5pt,length=4.5pt]}] (2558,108) -- (2520,108);
\draw[ared, line width=1.2pt, -{Triangle[width=5pt,length=4.5pt]}] (2456,137) -- (2418,137);
\draw[acyan, line width=1.2pt, -{Triangle[width=5pt,length=4.5pt]}] (2558,137) -- (2520,137);
\node[anchor=west, inner sep=0, text=black!75] at (2462,108) {\arial\fontsize{5.5}{6}\selectfont 0.938};
\node[anchor=west, inner sep=0, text=black!75] at (2564,108) {\arial\fontsize{5.5}{6}\selectfont 1.52};
\node[anchor=west, inner sep=0, text=black!75] at (2462,137) {\arial\fontsize{5.5}{6}\selectfont 1.24};
\node[anchor=west, inner sep=0, text=black!75] at (2564,137) {\arial\fontsize{5.5}{6}\selectfont 1.95};

\fill[black] (575,86) rectangle (651,112);
\draw[line width=0.5pt, fill=ldgray] (570,81) rectangle (646,107);
\node[inner sep=0] at (608,94) {\arial\bfseries\fontsize{7.5}{8}\selectfont LD2};
\fill[black] (1919,67) rectangle (1997,111);
\draw[line width=0.5pt, fill=ldgray] (1914,62) rectangle (1992,106);
\node[inner sep=0] at (1953,84) {\arial\bfseries\fontsize{10}{11}\selectfont LD2};

\node[anchor=base west, inner sep=0] at (158,107) {\qlab{0.5}};
\node[anchor=base west, inner sep=0] at (158,420) {\qlab{0.8}};
\node[anchor=base west, inner sep=0] at (158,735) {\qlab{1.25}};
\node[anchor=base west, inner sep=0] at (158,1047) {\qlab{1.75}};
\node[anchor=base west, inner sep=0] at (764,110) {\qlab{2.25}};
\node[anchor=base west, inner sep=0] at (764,437) {\qlab{2.75}};
\node[anchor=base west, inner sep=0] at (764,749) {\qlab{3.25}};
\node[anchor=base west, inner sep=0] at (764,1070) {\qlab{3.75}};
\node[anchor=base west, inner sep=0] at (1499,103) {\qlab{0.5}};
\node[anchor=base west, inner sep=0] at (1499,410) {\qlab{0.8}};
\node[anchor=base west, inner sep=0] at (1499,740) {\qlab{1.25}};
\node[anchor=base west, inner sep=0] at (1499,1063) {\qlab{1.75}};
\node[anchor=base west, inner sep=0] at (2112,100) {\qlab{2.25}};
\node[anchor=base west, inner sep=0] at (2112,430) {\qlab{2.75}};
\node[anchor=base west, inner sep=0] at (2112,748) {\qlab{3.25}};
\node[anchor=base west, inner sep=0] at (2112,1052) {\qlab{3.75}};

\node[rotate=90, inner sep=0] at (46,660) {\fontsize{18}{18}\selectfont\itshape F\raisebox{-0.25em}{\fontsize{12}{12}\selectfont 2}};
\node[rotate=90, inner sep=0] at (1385,648) {\fontsize{18}{18}\selectfont\itshape F\raisebox{-0.25em}{\fontsize{12}{12}\selectfont L}};
\node[inner sep=0] at (671,1377) {\fontsize{14.5}{15}\selectfont\textit{W}\raisebox{0.45em}{\fontsize{9.5}{10}\selectfont 2} (GeV\raisebox{0.45em}{\fontsize{9.5}{10}\selectfont 2})};
\node[inner sep=0] at (2015,1377) {\fontsize{14.5}{15}\selectfont\textit{W}\raisebox{0.45em}{\fontsize{9.5}{10}\selectfont 2} (GeV\raisebox{0.45em}{\fontsize{9.5}{10}\selectfont 2})};

\node[inner sep=0, text=prelim] at (516,587) {\arial\bfseries\itshape\fontsize{17.6}{18}\selectfont Preliminary};
\node[inner sep=0, text=prelim] at (1790,498) {\arial\bfseries\itshape\fontsize{17.6}{18}\selectfont Preliminary};
\end{scope}
\end{tikzpicture}
\end{document}
